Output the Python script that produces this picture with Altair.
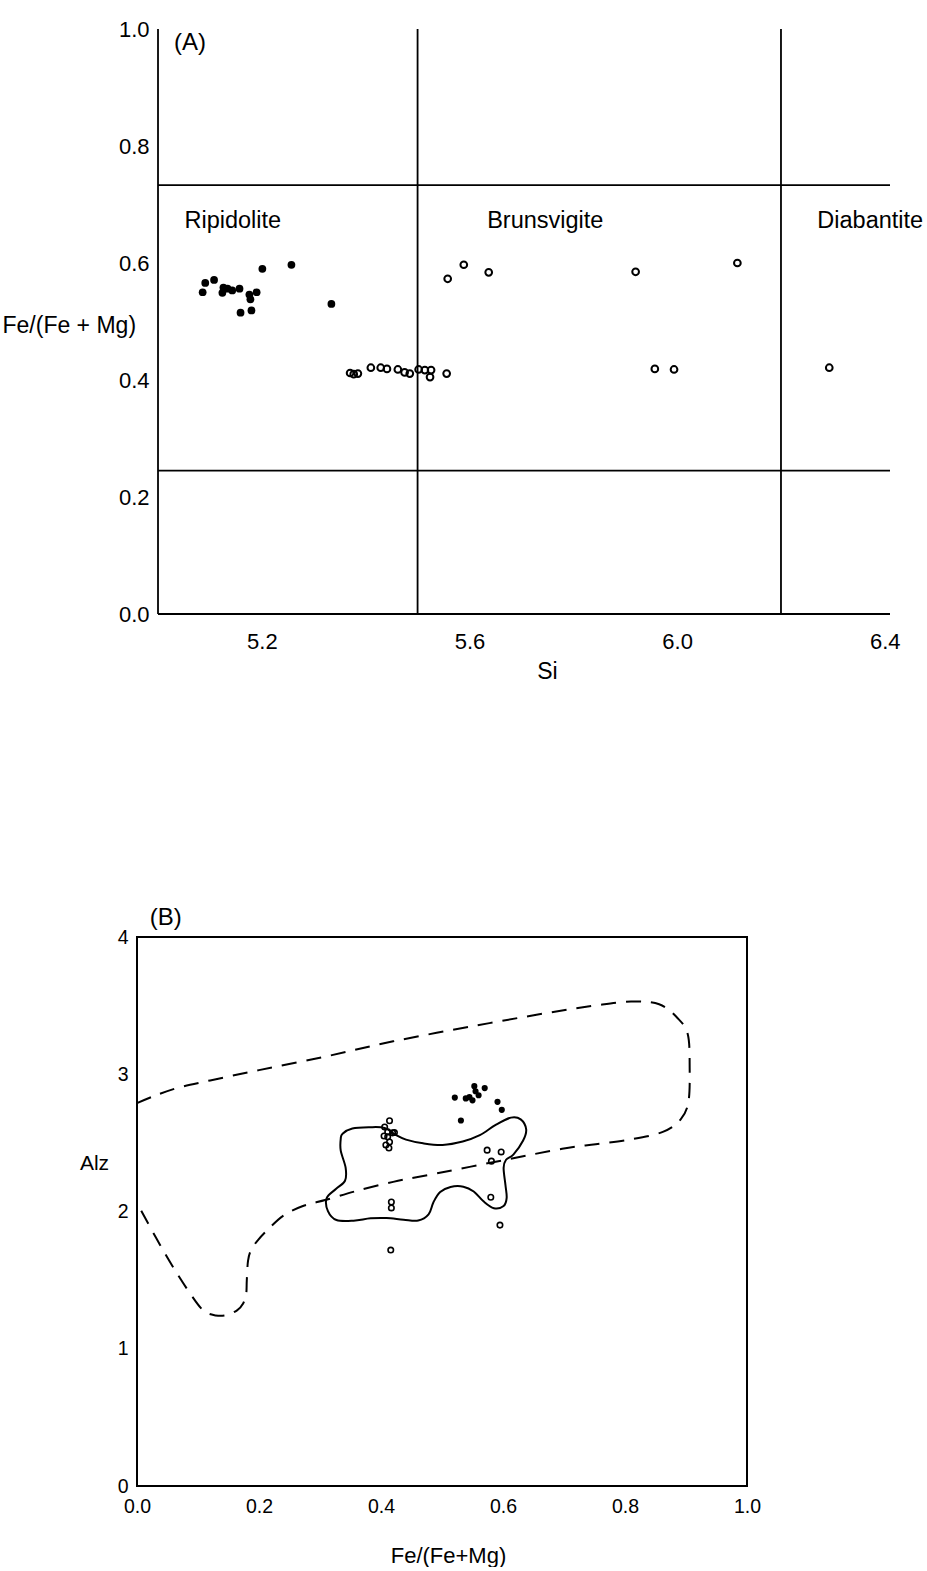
import altair as alt
import pandas as pd

FONT = "Liberation Sans"

# ---------------- Panel (A): Si against Fe/(Fe + Mg) ----------------
si_filled = [5.086, 5.091, 5.108, 5.126, 5.124, 5.134, 5.143, 5.157, 5.176, 5.178,
             5.190, 5.159, 5.180, 5.201, 5.257, 5.334]
fe_filled = [0.550, 0.566, 0.571, 0.558, 0.549, 0.556, 0.553, 0.556, 0.546, 0.538,
             0.550, 0.515, 0.519, 0.590, 0.597, 0.530]

si_open = [5.370, 5.377, 5.385, 5.410, 5.429, 5.441, 5.462, 5.475, 5.485, 5.502,
           5.514, 5.526, 5.524, 5.556, 5.558, 5.589, 5.637, 5.920, 6.116, 5.957,
           5.994, 6.293]
fe_open = [0.412, 0.410, 0.411, 0.421, 0.421, 0.419, 0.418, 0.413, 0.411, 0.418,
           0.417, 0.417, 0.405, 0.411, 0.573, 0.597, 0.584, 0.585, 0.600, 0.419,
           0.418, 0.421]

# classification field boundaries
si_boundaries = [5.5, 6.2]
fe_boundaries = [0.245, 0.733]
si_min, si_max = 5.0, 6.41

region_names = ["Ripidolite", "Brunsvigite", "Diabantite"]
region_si = [5.051, 5.634, 6.270]
region_fe = [0.66, 0.66, 0.66]

# ---------------- Panel (B): Fe/(Fe+Mg) against Alz ----------------
fe_b_filled = [0.521, 0.531, 0.539, 0.545, 0.550, 0.555, 0.553, 0.560, 0.570, 0.591, 0.598]
alz_b_filled = [2.830, 2.663, 2.824, 2.833, 2.810, 2.876, 2.913, 2.847, 2.899, 2.799, 2.741]

fe_b_open = [0.406, 0.414, 0.411, 0.419, 0.411, 0.414, 0.408, 0.413, 0.422, 0.405,
             0.417, 0.417, 0.416, 0.574, 0.597, 0.581, 0.580, 0.595]
alz_b_open = [2.616, 2.661, 2.580, 2.573, 2.544, 2.507, 2.485, 2.463, 2.575, 2.550,
              2.069, 2.026, 1.719, 2.447, 2.434, 2.367, 2.104, 1.901]

# dashed outline (open curve, left axis to left axis)
fe_dashed = [0.0, 0.03, 0.07, 0.12, 0.20, 0.31, 0.42, 0.55, 0.67, 0.75, 0.81, 0.856,
             0.886, 0.903, 0.906, 0.904, 0.891, 0.862, 0.808, 0.752, 0.697, 0.60, 0.48,
             0.42, 0.36, 0.31, 0.272, 0.24, 0.215, 0.198, 0.187, 0.182, 0.180, 0.179,
             0.174, 0.164, 0.147, 0.129, 0.109, 0.0875, 0.059, 0.031, 0.004]
alz_dashed = [2.79, 2.845, 2.905, 2.955, 3.03, 3.13, 3.24, 3.35, 3.445, 3.50, 3.53, 3.51,
              3.41, 3.29, 3.05, 2.80, 2.67, 2.58, 2.524, 2.49, 2.457, 2.373, 2.268,
              2.216, 2.15, 2.085, 2.04, 1.97, 1.87, 1.79, 1.72, 1.64, 1.50, 1.40,
              1.33, 1.28, 1.245, 1.243, 1.278, 1.40, 1.596, 1.81, 2.03]

# solid outline (closed curve)
fe_solid = [0.337, 0.353, 0.381, 0.406, 0.424, 0.441, 0.469, 0.501, 0.534, 0.562,
            0.588, 0.613, 0.629, 0.638, 0.633, 0.617, 0.605, 0.601, 0.604, 0.606,
            0.601, 0.585, 0.568, 0.552, 0.535, 0.514, 0.497, 0.486, 0.478, 0.461,
            0.437, 0.409, 0.383, 0.355, 0.327, 0.313, 0.311, 0.326, 0.341, 0.342,
            0.334, 0.334]
alz_solid = [2.567, 2.605, 2.614, 2.609, 2.559, 2.524, 2.497, 2.485, 2.510, 2.556,
             2.631, 2.684, 2.671, 2.598, 2.517, 2.414, 2.377, 2.318, 2.194, 2.099,
             2.040, 2.024, 2.074, 2.146, 2.181, 2.179, 2.142, 2.068, 1.979, 1.934,
             1.940, 1.952, 1.950, 1.933, 1.938, 2.003, 2.098, 2.164, 2.224, 2.319,
             2.443, 2.530]

# ---------------- layout constants ----------------
PX_PER_SI = 519.0
SI_LO = si_min - 21 / PX_PER_SI
WIDTH_A = round((si_max - SI_LO) * PX_PER_SI)
HEIGHT_A = 585
WIDTH_B = 610
HEIGHT_B = 549

# ---------------- Panel (A) ----------------
x_a = alt.X(
    "si:Q",
    scale=alt.Scale(domain=[SI_LO, si_max], nice=False, zero=False),
    axis=alt.Axis(
        values=[5.2, 5.6, 6.0, 6.4], format=".1f", domain=False, ticks=False, grid=False,
        labelFlush=False, labelFontSize=22, labelPadding=17,
        title="Si", titleFontSize=23, titleFontWeight="normal",
        titleX=410, titleY=57, titleAlign="center", titleBaseline="middle",
    ),
)
y_a = alt.Y(
    "fe:Q",
    scale=alt.Scale(domain=[0, 1], nice=False),
    axis=alt.Axis(
        values=[0, 0.2, 0.4, 0.6, 0.8, 1.0], format=".1f", domain=False, ticks=False,
        grid=False, labelFlush=False, labelFontSize=22, labelPadding=9, offset=-21,
        title="Fe/(Fe + Mg)", titleAngle=0, titleFontSize=23, titleFontWeight="normal",
        titleX=-156, titleY=296, titleAlign="left", titleBaseline="middle",
    ),
)

segments_a = pd.DataFrame({
    "si": [si_min, si_min] + [si_min] * len(fe_boundaries) + si_boundaries,
    "si2": [si_min, si_max] + [si_max] * len(fe_boundaries) + si_boundaries,
    "fe": [0.0, 0.0] + fe_boundaries + [0.0] * len(si_boundaries),
    "fe2": [1.0, 0.0] + fe_boundaries + [1.0] * len(si_boundaries),
})
lines_a = alt.Chart(segments_a).mark_rule(color="black", strokeWidth=1.8).encode(
    x=x_a, x2="si2:Q", y=y_a, y2="fe2:Q"
)

filled_a = alt.Chart(pd.DataFrame({"si": si_filled, "fe": fe_filled})).mark_circle(
    size=60, color="black", opacity=1
).encode(x=x_a, y=y_a)

open_a = alt.Chart(pd.DataFrame({"si": si_open, "fe": fe_open})).mark_point(
    shape="circle", filled=False, size=45, strokeWidth=2, color="black", opacity=1
).encode(x=x_a, y=y_a)

regions_a = alt.Chart(pd.DataFrame({"si": region_si, "fe": region_fe, "name": region_names})).mark_text(
    align="left", baseline="alphabetic", fontSize=23.5, font=FONT, color="black"
).encode(x=x_a, y=y_a, text="name:N")

tag_a = alt.Chart(pd.DataFrame({"si": [5.031], "fe": [0.964], "tag": ["(A)"]})).mark_text(
    align="left", baseline="alphabetic", fontSize=24, font=FONT, color="black"
).encode(x=x_a, y=y_a, text="tag:N")

# panel (A) has only the left and bottom axis lines, no frame
panel_a = alt.layer(lines_a, filled_a, open_a, regions_a, tag_a).properties(
    width=WIDTH_A, height=HEIGHT_A,
    view=alt.ViewBackground(stroke="white", strokeOpacity=0, strokeWidth=0),
)

# ---------------- Panel (B) ----------------
x_b = alt.X(
    "fe:Q",
    scale=alt.Scale(domain=[0, 1], nice=False),
    axis=alt.Axis(
        values=[0, 0.2, 0.4, 0.6, 0.8, 1.0], format=".1f", domain=False, ticks=False,
        grid=False, labelFlush=False, labelFontSize=19.5, labelPadding=11,
        title="Fe/(Fe+Mg)", titleFontSize=22, titleFontWeight="normal",
        titleX=311, titleY=69, titleAlign="center", titleBaseline="middle",
    ),
)
y_b = alt.Y(
    "alz:Q",
    scale=alt.Scale(domain=[0, 4], nice=False),
    axis=alt.Axis(
        values=[0, 1, 2, 3, 4], format="d", domain=False, ticks=False, grid=False,
        labelFlush=False, labelFontSize=19.5, labelPadding=9,
        title="Alz", titleAngle=0, titleFontSize=21, titleFontWeight="normal",
        titleX=-43, titleY=226, titleAlign="center", titleBaseline="middle",
    ),
)

dashed_b = alt.Chart(pd.DataFrame({
    "fe": fe_dashed, "alz": alz_dashed, "i": list(range(len(fe_dashed)))
})).mark_line(
    interpolate="cardinal", color="black", strokeWidth=2, strokeDash=[15, 10]
).encode(x=x_b, y=y_b, order="i:Q")

solid_b = alt.Chart(pd.DataFrame({
    "fe": fe_solid, "alz": alz_solid, "i": list(range(len(fe_solid)))
})).mark_line(
    interpolate="cardinal-closed", color="black", strokeWidth=2
).encode(x=x_b, y=y_b, order="i:Q")

filled_b = alt.Chart(pd.DataFrame({"fe": fe_b_filled, "alz": alz_b_filled})).mark_circle(
    size=38, color="black", opacity=1
).encode(x=x_b, y=y_b)

open_b = alt.Chart(pd.DataFrame({"fe": fe_b_open, "alz": alz_b_open})).mark_point(
    shape="circle", filled=False, size=30, strokeWidth=1.6, color="black", opacity=1
).encode(x=x_b, y=y_b)

tag_b = alt.Chart(pd.DataFrame({"fe": [0.021], "alz": [4.14], "tag": ["(B)"]})).mark_text(
    align="left", baseline="middle", fontSize=24, font=FONT, color="black"
).encode(x=x_b, y=y_b, text="tag:N")

panel_b = alt.layer(dashed_b, solid_b, filled_b, open_b, tag_b).properties(
    width=WIDTH_B, height=HEIGHT_B,
    view=alt.ViewBackground(stroke="black", strokeWidth=2),
)

chart = alt.vconcat(
    panel_a, panel_b, spacing=323, bounds="flush",
    padding={"left": 2, "top": 18, "right": 0, "bottom": 0},
).configure_view(
    stroke="white", strokeOpacity=0, strokeWidth=0
).configure_axis(
    labelFont=FONT, titleFont=FONT, labelColor="black", titleColor="black"
).configure(
    background="white"
)

chart.save("out.html", embed_options={"renderer": "svg", "actions": False})
